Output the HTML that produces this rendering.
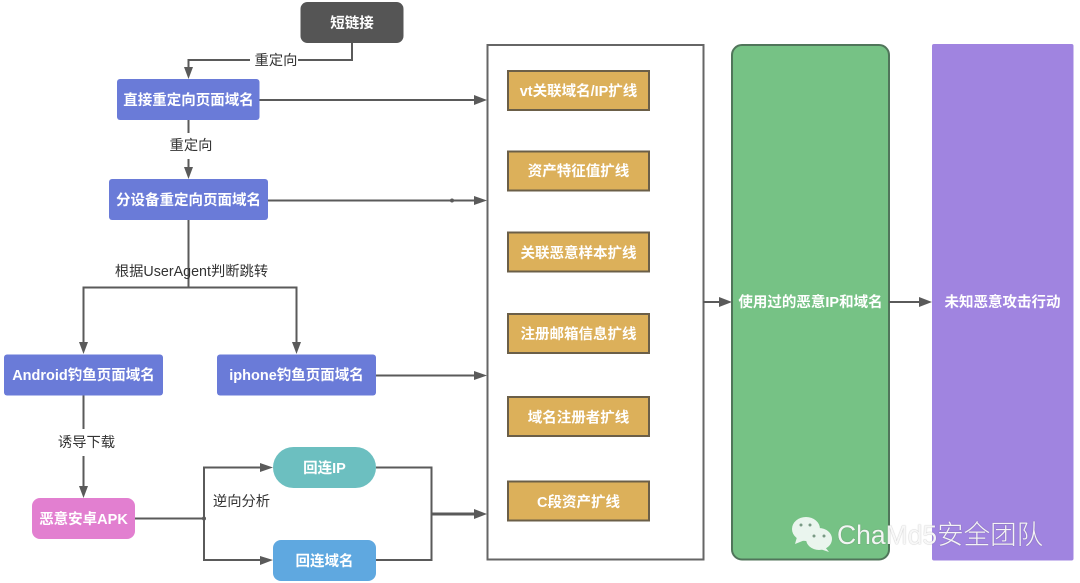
<!DOCTYPE html>
<html><head><meta charset="utf-8"><style>
html,body{margin:0;padding:0;background:#fff;overflow:hidden}
body{position:relative;width:1080px;height:583px}
svg{display:block;filter:blur(.35px)}
text{font-family:"Liberation Sans","Noto Sans CJK SC",sans-serif}
.b{font-size:14.5px;font-weight:700;fill:#fff;text-anchor:middle}
.l{font-size:14.300px;fill:#333;text-anchor:middle}
.c{fill:none;stroke:#5a5a5a;stroke-width:2}
.a{fill:#5a5a5a}
#wm{position:absolute;left:837px;top:518px;line-height:34px;font-size:26.500px;font-weight:300;color:rgba(255,255,255,.92);white-space:nowrap;font-family:"Liberation Sans","Noto Sans CJK SC",sans-serif;text-shadow:0 0 1px rgba(70,70,70,.55)}
</style></head><body>
<svg width="1080" height="583" viewBox="0 0 1080 583" xmlns="http://www.w3.org/2000/svg">
<rect width="1080" height="583" fill="#fff"/>
<!-- containers -->
<rect x="487.500" y="45" width="216" height="514.500" fill="#fff" stroke="#666" stroke-width="2"/>
<rect x="732" y="45" width="157" height="514.500" rx="10" fill="#76c285" stroke="#50755a" stroke-width="2"/>
<rect x="932" y="44" width="141.500" height="516.500" rx="2" fill="#a084e0"/>
<!-- connectors -->
<path class="c" d="M352 43V60H298M250 60H188.500V68"/>
<path class="a" d="M184 67H193L188.500 79Z"/>
<path class="c" d="M188.500 120V133M188.500 159V168"/>
<path class="a" d="M184 167H193L188.500 179Z"/>
<path class="c" d="M259 100H475"/><path class="a" d="M474 95L487 100L474 105Z"/>
<path class="c" d="M268 200.500H475"/><path class="a" d="M474 196L487 200.500L474 205Z"/><circle class="a" cx="452" cy="200.500" r="2"/>
<path class="c" d="M188.500 220V287.500M83.500 343V287.500H296.500V343"/>
<path class="a" d="M79 342H88L83.500 354ZM292 342H301L296.500 354Z"/>
<path class="c" d="M376 375.500H475"/><path class="a" d="M474 371L487 375.500L474 380Z"/>
<path class="c" d="M83.500 395V429M83.500 456V487"/><path class="a" d="M79 486H88L83.500 498Z"/>
<path class="c" d="M135 518.500H204M262 467.500H204V560H262"/>
<circle class="a" cx="204" cy="518.500" r="2"/>
<path class="a" d="M260 463L273 467.500L260 472ZM260 556L273 560L260 565Z"/>
<path class="c" d="M376 467.500H431.500V560H376"/>
<path class="c" style="stroke-width:3" d="M431.500 514H475"/><path class="a" d="M474 509L487 514L474 519Z"/>
<path class="c" d="M703 302H720"/><path class="a" d="M719 297L732 302L719 307Z"/>
<path class="c" d="M889 302H920"/><path class="a" d="M919 297L932 302L919 307Z"/>
<!-- nodes -->
<rect x="300.500" y="2" width="103" height="41" rx="7" fill="#555"/>
<rect x="117" y="79" width="142.500" height="41" rx="3" fill="#6a7bd8"/>
<rect x="109" y="179" width="159" height="41" rx="3" fill="#6a7bd8"/>
<rect x="4" y="354.500" width="159" height="41" rx="3" fill="#6a7bd8"/>
<rect x="217" y="354.500" width="159" height="41" rx="3" fill="#6a7bd8"/>
<rect x="32" y="498" width="103" height="41" rx="8" fill="#e27fd0"/>
<rect x="273" y="447" width="103" height="41" rx="20.500" fill="#6cbfc0"/>
<rect x="273" y="540" width="103" height="41" rx="8" fill="#5fa8e0"/>
<g fill="#dcb05a" stroke="#6b5f48" stroke-width="2">
<rect x="508" y="71" width="141" height="39"/>
<rect x="508" y="151.500" width="141" height="39"/>
<rect x="508" y="232.500" width="141" height="39"/>
<rect x="508" y="314" width="141" height="39"/>
<rect x="508" y="397" width="141" height="39"/>
<rect x="508" y="481.500" width="141" height="39"/>
</g>
<!-- labels -->
<g>
<text class="b" x="352" y="28">短链接</text>
<text class="b" x="188.500" y="105">直接重定向页面域名</text>
<text class="b" x="188.500" y="205">分设备重定向页面域名</text>
<text class="b" x="83.500" y="380">Android钓鱼页面域名</text>
<text class="b" x="296.500" y="380">iphone钓鱼页面域名</text>
<text class="b" x="83.500" y="524">恶意安卓APK</text>
<text class="b" x="324.500" y="473">回连IP</text>
<text class="b" x="324.500" y="566">回连域名</text>
<text class="b" x="578.500" y="96">vt关联域名/IP扩线</text>
<text class="b" x="578.500" y="176">资产特征值扩线</text>
<text class="b" x="578.500" y="258">关联恶意样本扩线</text>
<text class="b" x="578.500" y="339">注册邮箱信息扩线</text>
<text class="b" x="578.500" y="422.500">域名注册者扩线</text>
<text class="b" x="578.500" y="507">C段资产扩线</text>
<text class="b" x="810.500" y="307">使用过的恶意IP和域名</text>
<text class="b" x="1002.500" y="307">未知恶意攻击行动</text>
</g>
<text class="l" x="276" y="65">重定向</text>
<text class="l" x="191" y="150">重定向</text>
<text class="l" x="191.500" y="276">根据UserAgent判断跳转</text>
<text class="l" x="86.500" y="447">诱导下载</text>
<text class="l" x="241.500" y="506">逆向分析</text>
<!-- watermark icon -->
<g fill="#eaf5ee">
<ellipse cx="806" cy="529" rx="14" ry="12"/><path d="M797 537L795 544L805 540Z"/>
<ellipse cx="819" cy="539" rx="13" ry="11"/><path d="M825 547L829 552L820 549Z"/>
</g>
<g fill="#7a9a85"><circle cx="801" cy="525" r="1.500"/><circle cx="810" cy="525" r="1.500"/><circle cx="814" cy="536" r="1.500"/><circle cx="824" cy="536" r="1.500"/></g>
</svg>
<div id="wm">ChaMd5安全团队</div>
</body></html>
